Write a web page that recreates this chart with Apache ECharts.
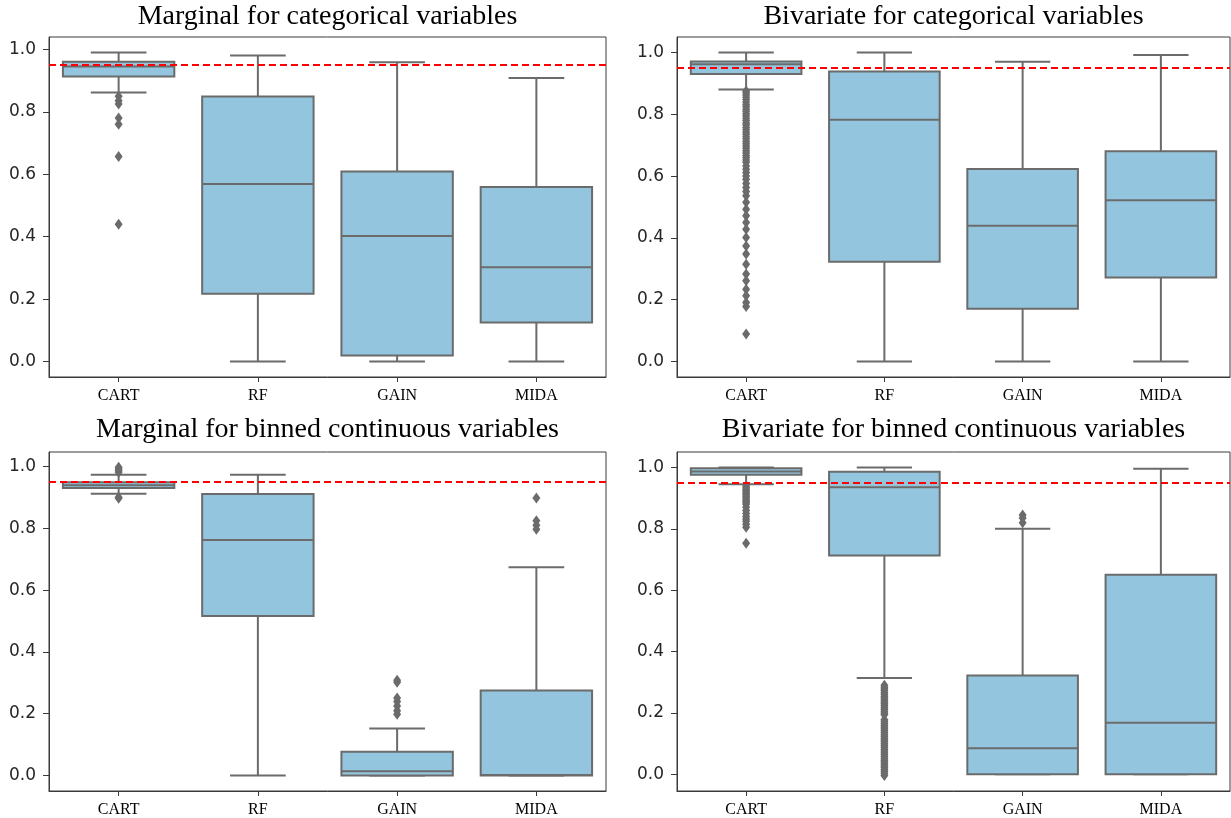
<!DOCTYPE html>
<html>
<head>
<meta charset="utf-8">
<script src="https://cdn.jsdelivr.net/npm/echarts@6/dist/echarts.min.js"></script>
<style>
html,body{margin:0;padding:0;background:#fff;}
#main{width:1231px;height:818px;}
</style>
</head>
<body>
<div id="main"></div>
<script>
// ---------------- DATA ----------------
const categories = ['CART', 'RF', 'GAIN', 'MIDA'];
const yTicks = [0, 0.2, 0.4, 0.6, 0.8, 1.0];
const titles = [
  'Marginal for categorical variables',
  'Bivariate for categorical variables',
  'Marginal for binned continuous variables',
  'Bivariate for binned continuous variables'
];
const refLine = 0.95;

// Panel 1: Marginal for categorical variables
const mcLow  = [0.862, 0.0,   0.0,   0.0];
const mcQ1   = [0.913, 0.217, 0.019, 0.125];
const mcMed  = [0.945, 0.569, 0.402, 0.302];
const mcQ3   = [0.960, 0.849, 0.609, 0.559];
const mcHigh = [0.990, 0.980, 0.959, 0.908];
const mcOutCART = [0.850, 0.835, 0.825, 0.780, 0.760, 0.657, 0.440];
const mcOutRF = [];
const mcOutGAIN = [];
const mcOutMIDA = [];

// Panel 2: Bivariate for categorical variables
const bcLow  = [0.880, 0.0,   0.0,   0.0];
const bcQ1   = [0.930, 0.323, 0.171, 0.272];
const bcMed  = [0.962, 0.782, 0.439, 0.522];
const bcQ3   = [0.971, 0.938, 0.623, 0.680];
const bcHigh = [1.000, 1.000, 0.970, 0.992];
const bcOutCART = [0.875, 0.870, 0.862, 0.855, 0.848, 0.840, 0.832, 0.825, 0.817, 0.810,
  0.802, 0.795, 0.787, 0.780, 0.772, 0.765, 0.757, 0.750, 0.742, 0.735, 0.727, 0.720,
  0.712, 0.705, 0.697, 0.690, 0.682, 0.675, 0.667, 0.660, 0.652, 0.645, 0.633, 0.622,
  0.612, 0.600, 0.590, 0.576, 0.563, 0.550, 0.536, 0.515, 0.493, 0.472, 0.450, 0.428,
  0.401, 0.374, 0.348, 0.315, 0.283, 0.261, 0.234, 0.213, 0.191, 0.178, 0.089];
const bcOutRF = [];
const bcOutGAIN = [];
const bcOutMIDA = [];

// Panel 3: Marginal for binned continuous variables
const mbLow  = [0.912, 0.0,   0.0,   0.0];
const mbQ1   = [0.930, 0.516, 0.0,   0.0];
const mbMed  = [0.939, 0.762, 0.014, 0.002];
const mbQ3   = [0.949, 0.911, 0.077, 0.275];
const mbHigh = [0.973, 0.973, 0.152, 0.674];
const mbOutCART = [0.997, 0.992, 0.986, 0.981, 0.900, 0.897];
const mbOutRF = [];
const mbOutGAIN = [0.308, 0.302, 0.251, 0.240, 0.225, 0.210, 0.198];
const mbOutMIDA = [0.898, 0.824, 0.810, 0.797];

// Panel 4: Bivariate for binned continuous variables
const bbLow  = [0.945, 0.314, 0.0,   0.0];
const bbQ1   = [0.976, 0.713, 0.0,   0.0];
const bbMed  = [0.987, 0.935, 0.085, 0.168];
const bbQ3   = [0.997, 0.986, 0.322, 0.650];
const bbHigh = [1.000, 1.000, 0.800, 0.996];
const bbOutCART = [0.940, 0.935, 0.930, 0.925, 0.920, 0.915, 0.910, 0.905, 0.900, 0.895,
  0.890, 0.885, 0.880, 0.870, 0.860, 0.850, 0.840, 0.832, 0.825, 0.815, 0.805, 0.753];
const bbOutRF = [0.290, 0.284, 0.278, 0.272, 0.266, 0.260, 0.254, 0.248, 0.242, 0.236,
  0.230, 0.224, 0.218, 0.212, 0.206, 0.200, 0.194, 0.178, 0.172, 0.166, 0.160, 0.154,
  0.148, 0.142, 0.136, 0.130, 0.124, 0.118, 0.112, 0.106, 0.100, 0.094, 0.088, 0.082,
  0.076, 0.070, 0.064, 0.058, 0.052, 0.046, 0.040, 0.034, 0.028, 0.022, 0.016, 0.010,
  0.004, -0.004];
const bbOutGAIN = [0.845, 0.835, 0.820];
const bbOutMIDA = [];

// ---------------- BUILD ----------------
const panels = [
  {low: mcLow, q1: mcQ1, med: mcMed, q3: mcQ3, high: mcHigh, out: [mcOutCART, mcOutRF, mcOutGAIN, mcOutMIDA], ymin: -0.0495, ymax: 1.0395},
  {low: bcLow, q1: bcQ1, med: bcMed, q3: bcQ3, high: bcHigh, out: [bcOutCART, bcOutRF, bcOutGAIN, bcOutMIDA], ymin: -0.05, ymax: 1.05},
  {low: mbLow, q1: mbQ1, med: mbMed, q3: mbQ3, high: mbHigh, out: [mbOutCART, mbOutRF, mbOutGAIN, mbOutMIDA], ymin: -0.0499, ymax: 1.0467},
  {low: bbLow, q1: bbQ1, med: bbMed, q3: bbQ3, high: bbHigh, out: [bbOutCART, bbOutRF, bbOutGAIN, bbOutMIDA], ymin: -0.0542, ymax: 1.0502}
];

const grids = [
  {left: 49,  top: 37,  width: 557, height: 340},
  {left: 677, top: 37,  width: 553, height: 340},
  {left: 49,  top: 452, width: 557, height: 340},
  {left: 677, top: 452, width: 553, height: 340}
];
const titleTops = [3, 416];

const FRAME = '#3a3a3a';
const EDGE = '#6b6b6b';
const FILL = '#93c6de';

const option = {
  backgroundColor: '#ffffff',
  animation: false,
  title: [],
  grid: [],
  xAxis: [],
  yAxis: [],
  series: []
};

grids.forEach((g, i) => {
  option.grid.push(Object.assign({show: true, borderColor: FRAME, borderWidth: 1, backgroundColor: 'transparent'}, g));
  option.title.push({
    text: titles[i],
    left: g.left + g.width / 2,
    top: titleTops[Math.floor(i / 2)],
    textAlign: 'center',
    padding: 0,
    textStyle: {fontFamily: 'Liberation Serif', fontSize: 28, fontWeight: 'normal', color: '#000'}
  });
  option.xAxis.push({
    type: 'category',
    gridIndex: i,
    data: categories,
    axisLine: {show: true, onZero: false, lineStyle: {color: FRAME, width: 1}},
    axisTick: {show: true, alignWithLabel: true, length: 5, lineStyle: {color: FRAME}},
    axisLabel: {fontFamily: 'Liberation Serif', fontSize: 16, color: '#000', margin: 11},
    splitLine: {show: false}
  });
  const p = panels[i];
  option.yAxis.push({
    type: 'value',
    gridIndex: i,
    min: p.ymin,
    max: p.ymax,
    axisLine: {show: true, lineStyle: {color: FRAME, width: 1}},
    axisTick: {show: true, length: 6, lineStyle: {color: FRAME}, customValues: yTicks},
    axisLabel: {fontFamily: 'DejaVu Sans', fontSize: 17, color: '#262626', margin: 13,
      customValues: yTicks, formatter: v => v.toFixed(1)},
    splitLine: {show: false}
  });

  const boxData = categories.map((c, k) => [k, p.low[k], p.q1[k], p.med[k], p.q3[k], p.high[k]]);
  option.series.push({
    type: 'custom',
    xAxisIndex: i,
    yAxisIndex: i,
    z: 2,
    data: boxData,
    encode: {x: 0, y: [1, 2, 3, 4, 5]},
    renderItem: function (params, api) {
      const x = api.value(0);
      const pl = api.coord([x, api.value(1)]);
      const p1 = api.coord([x, api.value(2)]);
      const pm = api.coord([x, api.value(3)]);
      const p3 = api.coord([x, api.value(4)]);
      const ph = api.coord([x, api.value(5)]);
      const band = api.size([1, 0])[0];
      const bw = band * 0.8;
      const cw = bw * 0.5;
      const cx = pl[0];
      const st = {stroke: EDGE, lineWidth: 2, fill: null};
      return {
        type: 'group',
        children: [
          {type: 'line', shape: {x1: cx, y1: pl[1], x2: cx, y2: p1[1]}, style: st},
          {type: 'line', shape: {x1: cx, y1: p3[1], x2: cx, y2: ph[1]}, style: st},
          {type: 'line', shape: {x1: cx - cw / 2, y1: pl[1], x2: cx + cw / 2, y2: pl[1]}, style: st},
          {type: 'line', shape: {x1: cx - cw / 2, y1: ph[1], x2: cx + cw / 2, y2: ph[1]}, style: st},
          {type: 'rect', shape: {x: cx - bw / 2, y: p3[1], width: bw, height: p1[1] - p3[1]},
            style: {fill: FILL, stroke: EDGE, lineWidth: 2}},
          {type: 'line', shape: {x1: cx - bw / 2, y1: pm[1], x2: cx + bw / 2, y2: pm[1]}, style: st}
        ]
      };
    }
  });

  const outData = [];
  p.out.forEach((arr, k) => arr.forEach(v => outData.push([categories[k], v])));
  option.series.push({
    type: 'scatter',
    xAxisIndex: i,
    yAxisIndex: i,
    z: 3,
    symbol: 'diamond',
    symbolSize: [8, 11],
    itemStyle: {color: EDGE, opacity: 1},
    data: outData,
    markLine: {
      silent: true,
      symbol: 'none',
      z: 10,
      label: {show: false},
      lineStyle: {color: '#ff0000', type: [7, 4], width: 2},
      data: [{yAxis: refLine}]
    }
  });
});

const chart = echarts.init(document.getElementById('main'), null, {renderer: 'canvas'});
chart.setOption(option);
</script>
</body>
</html>
